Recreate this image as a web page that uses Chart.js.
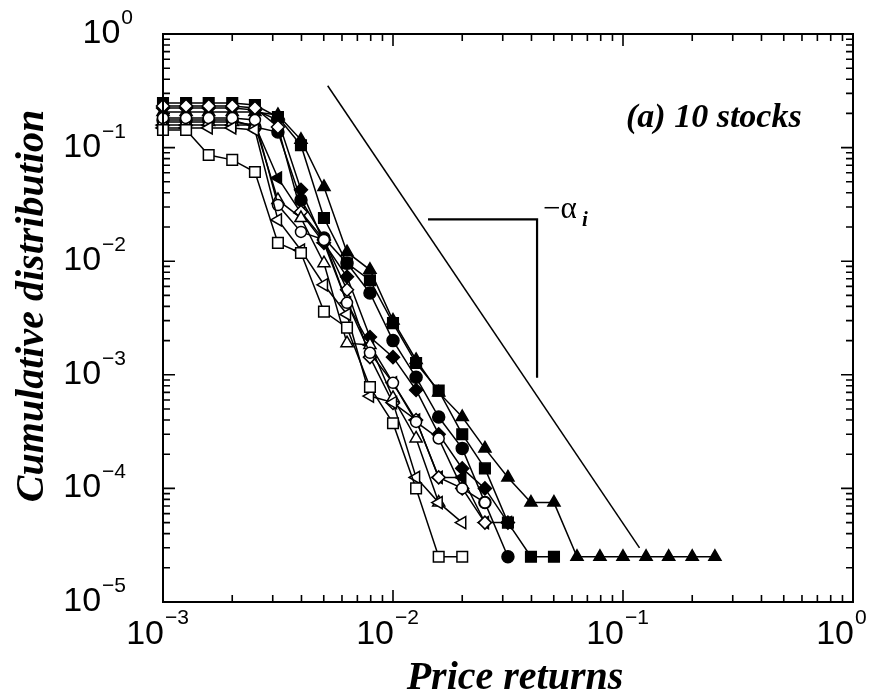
<!DOCTYPE html>
<html>
<head>
<meta charset="utf-8">
<script src="https://cdn.jsdelivr.net/npm/chart.js@4/dist/chart.umd.min.js"></script>
<style>
  html, body { margin: 0; padding: 0; background: #fff; }
  #wrap { width: 870px; height: 693px; }
</style>
</head>
<body>
<div id="wrap"><canvas id="c" width="870" height="693"></canvas></div>
<script>
// Price-return bins, ten per decade
const returnBins = [0.001, 0.00126, 0.00158, 0.002, 0.00251, 0.00316, 0.00398, 0.00501, 0.00631, 0.00794,
                    0.01, 0.0126, 0.0158, 0.02, 0.0251, 0.0316, 0.0398, 0.0501, 0.0631, 0.0794,
                    0.1, 0.126, 0.158, 0.2, 0.251];

// Cumulative distribution of each stock, one value per bin from the first
const stockA = [0.206, 0.206, 0.206, 0.206, 0.206, 0.194, 0.117, 0.045, 0.012, 0.0084, 0.003, 0.00135, 0.0007,
                0.000425, 0.000225, 0.000125, 0.000075, 0.000075, 0.000025, 0.000025, 0.000025, 0.000025,
                0.000025, 0.000025, 0.000025];
const stockB = [0.247, 0.247, 0.247, 0.247, 0.237, 0.186, 0.105, 0.024, 0.0096, 0.0068, 0.00285, 0.00127,
                0.000725, 0.0003, 0.00015, 0.00005, 0.000025, 0.000025];
const stockC = [0.175, 0.175, 0.175, 0.175, 0.152, 0.137, 0.0346, 0.016, 0.0096, 0.00525, 0.002, 0.00095,
                0.000425, 0.000225, 0.000075, 0.000025];
const stockD = [0.223, 0.223, 0.223, 0.223, 0.214, 0.175, 0.0425, 0.0145, 0.0073, 0.00215, 0.00143, 0.000735,
                0.0003, 0.00015, 0.0001, 0.00005];
const stockE = [0.158, 0.158, 0.158, 0.158, 0.158, 0.054, 0.0266, 0.0145, 0.0043, 0.00183, 0.00085, 0.0004,
                0.000125, 0.000125, 0.00005, 0.00005];
const stockF = [0.143, 0.143, 0.086, 0.078, 0.061, 0.0145, 0.0118, 0.0036, 0.0026, 0.00078, 0.000375, 0.0001,
                0.000025, 0.000025];
const stockG = [0.149, 0.149, 0.149, 0.149, 0.143, 0.0231, 0.0125, 0.0062, 0.0034, 0.00065, 0.00057, 0.000125,
                0.000075, 0.00005];
const stockH = [0.182, 0.182, 0.182, 0.182, 0.175, 0.0312, 0.0181, 0.0154, 0.0043, 0.00156, 0.00085, 0.000385,
                0.000275, 0.0001, 0.000075];
const stockI = [0.168, 0.168, 0.168, 0.168, 0.158, 0.0346, 0.024, 0.0096, 0.0019, 0.00183, 0.000625, 0.000275,
                0.000075];
const stockJ = [0.232, 0.232, 0.232, 0.232, 0.223, 0.152, 0.0271, 0.0154, 0.0056, 0.00143, 0.000565, 0.0004,
                0.000125, 0.0001, 0.00005];

// Power-law guide of slope -3 and its slope bracket
const guideX = [0.0052, 0.118];
const guideY = [0.35, 0.00003];
const bracketX = [0.0142, 0.0423, 0.0423];
const bracketY = [0.0233, 0.0233, 0.00094];

// Axis decades and their exponent labels
const xTickValues = [0.001, 0.01, 0.1, 1];
const xTickExps = ['\u22123', '\u22122', '\u22121', '0'];
const yTickValues = [0.00001, 0.0001, 0.001, 0.01, 0.1, 1];
const yTickExps = ['\u22125', '\u22124', '\u22123', '\u22122', '\u22121', '0'];
const minorSteps = [2, 3, 4, 5, 6, 7, 8, 9];

const toPoints = (vals) => vals.map((v, i) => ({ x: returnBins[i], y: v }));
const pairPoints = (xs, ys) => xs.map((v, i) => ({ x: v, y: ys[i] }));

function stockSet(vals, style, filled, radius, rotation) {
  return {
    data: toPoints(vals),
    showLine: true,
    borderColor: '#000',
    borderWidth: 1.5,
    pointStyle: style,
    pointRotation: rotation || 0,
    pointRadius: radius,
    pointHoverRadius: radius,
    pointBorderWidth: 1.5,
    pointBackgroundColor: filled ? '#000' : '#fff',
    pointBorderColor: '#000',
    clip: false
  };
}

const datasets = [
  { data: pairPoints(guideX, guideY), showLine: true, borderColor: '#000', borderWidth: 1.5, pointRadius: 0, clip: false },
  { data: pairPoints(bracketX, bracketY), showLine: true, borderColor: '#000', borderWidth: 2.2, pointRadius: 0, clip: false },
  stockSet(stockF, 'rect', false, 7.5),
  stockSet(stockG, 'triangle', false, 7, -90),
  stockSet(stockH, 'circle', false, 5.5),
  stockSet(stockI, 'triangle', false, 7),
  stockSet(stockJ, 'rectRot', false, 6.5),
  stockSet(stockE, 'triangle', true, 7, -90),
  stockSet(stockD, 'rectRot', true, 6.5),
  stockSet(stockC, 'circle', true, 6),
  stockSet(stockB, 'rect', true, 7.5),
  stockSet(stockA, 'triangle', true, 7)
];

// Frame with inward ticks, tick labels, axis titles and annotations
const framePlugin = {
  id: 'framePlugin',
  afterDraw(chart) {
    const { ctx, chartArea: a, scales } = chart;
    const xs = scales.x, ys = scales.y;
    ctx.save();
    ctx.strokeStyle = '#000';
    ctx.fillStyle = '#000';
    ctx.lineWidth = 2;
    ctx.strokeRect(a.left, a.top, a.right - a.left, a.bottom - a.top);

    ctx.lineWidth = 1.6;
    const majorLen = 12, minorLen = 7;
    const xTick = (px, len) => {
      ctx.beginPath();
      ctx.moveTo(px, a.bottom); ctx.lineTo(px, a.bottom - len);
      ctx.moveTo(px, a.top); ctx.lineTo(px, a.top + len);
      ctx.stroke();
    };
    const yTick = (py, len) => {
      ctx.beginPath();
      ctx.moveTo(a.left, py); ctx.lineTo(a.left + len, py);
      ctx.moveTo(a.right, py); ctx.lineTo(a.right - len, py);
      ctx.stroke();
    };
    xTickValues.forEach((v, i) => {
      xTick(xs.getPixelForValue(v), majorLen);
      if (i < xTickValues.length - 1) minorSteps.forEach(m => xTick(xs.getPixelForValue(v * m), minorLen));
    });
    yTickValues.forEach((v, i) => {
      yTick(ys.getPixelForValue(v), majorLen);
      if (i < yTickValues.length - 1) minorSteps.forEach(m => yTick(ys.getPixelForValue(v * m), minorLen));
    });

    const baseFont = '34px "Liberation Sans", Arial, sans-serif';
    const expFont = '21px "Liberation Sans", Arial, sans-serif';
    ctx.textBaseline = 'alphabetic';
    xTickValues.forEach((v, i) => {
      const px = xs.getPixelForValue(v);
      ctx.font = baseFont; ctx.textAlign = 'right';
      ctx.fillText('10', px + 1, a.bottom + 42);
      ctx.font = expFont; ctx.textAlign = 'left';
      ctx.fillText(xTickExps[i], px + 2, a.bottom + 22);
    });
    yTickValues.forEach((v, i) => {
      const py = ys.getPixelForValue(v);
      const right = a.left - (yTickExps[i] === '0' ? 30 : 37);
      ctx.font = expFont;
      const we = ctx.measureText(yTickExps[i]).width;
      ctx.textAlign = 'left';
      ctx.fillText(yTickExps[i], right - we, py - 10);
      ctx.font = baseFont; ctx.textAlign = 'right';
      ctx.fillText('10', right - we - 1, py + 9);
    });

    const titleFont = 'italic bold 40px "Liberation Serif", "Times New Roman", serif';
    ctx.font = titleFont;
    ctx.textAlign = 'center';
    ctx.fillText('Price returns', 515, 689);
    ctx.save();
    ctx.translate(43, 306);
    ctx.rotate(-Math.PI / 2);
    ctx.fillText('Cumulative distribution', 0, 0);
    ctx.restore();

    ctx.textAlign = 'left';
    ctx.font = 'italic bold 34px "Liberation Serif", "Times New Roman", serif';
    ctx.fillText('(a) 10 stocks', 626, 127);
    ctx.font = '31px "Liberation Serif", "Times New Roman", serif';
    ctx.fillText('\u2212\u03b1', 543, 218);
    ctx.font = 'italic bold 21px "Liberation Serif", "Times New Roman", serif';
    ctx.fillText('i', 582, 226);
    ctx.restore();
  }
};

new Chart(document.getElementById('c'), {
  type: 'scatter',
  data: { datasets },
  options: {
    responsive: false,
    animation: false,
    events: [],
    layout: { padding: { left: 163, right: 17, top: 34, bottom: 91 } },
    plugins: { legend: { display: false }, tooltip: { enabled: false } },
    scales: {
      x: { type: 'logarithmic', min: 0.001, max: 1, display: false },
      y: { type: 'logarithmic', min: 0.00001, max: 1, display: false }
    }
  },
  plugins: [framePlugin]
});
</script>
</body>
</html>
